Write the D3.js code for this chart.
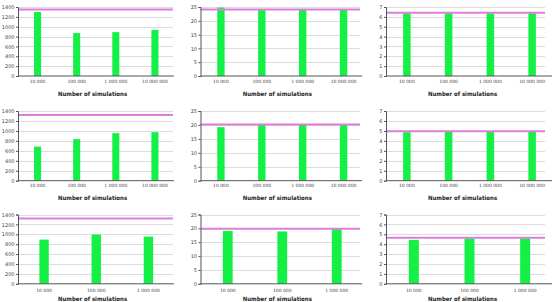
<!DOCTYPE html>
<html><head><meta charset="utf-8">
<script src="https://cdn.jsdelivr.net/npm/d3@7"></script>
<style>html,body{margin:0;padding:0;background:#fff;overflow:hidden}</style>
</head><body><svg id="c" width="552" height="302"></svg>
<script>
// ---- data ----
const categories4 = ["10 000", "100 000", "1 000 000", "10 000 000"];
const categories3 = ["10 000", "100 000", "1 000 000"];
const xTitle = "Number of simulations";

const r1c1 = [1300, 870, 890, 935], r1c1Target = 1350;
const r1c2 = [24.8, 23.95, 23.95, 23.95], r1c2Target = 24.1;
const r1c3 = [6.36, 6.36, 6.36, 6.36], r1c3Target = 6.41;

const r2c1 = [685, 835, 955, 975], r2c1Target = 1320;
const r2c2 = [19.2, 20.4, 20.2, 20.2], r2c2Target = 20.2;
const r2c3 = [4.87, 4.9, 4.9, 4.9], r2c3Target = 4.97;

const r3c1 = [893, 994, 954], r3c1Target = 1320;
const r3c2 = [19.1, 18.9, 19.7], r3c2Target = 19.9;
const r3c3 = [4.44, 4.58, 4.58], r3c3Target = 4.65;

const yMaxCol = [1400, 25, 7];
const yTickStepCol = [200, 5, 1];

// ---- layout ----
const rowLayout = [
  {top: 7, bottom: 76, catY: 82.5, titleY: 96},
  {top: 111, bottom: 180.7, catY: 187, titleY: 199.5},
  {top: 214.5, bottom: 283.8, catY: 291.5, titleY: 301}
];
const colLayout = [
  {x0: 18, x1: 174.5, gridRight: 173, axisRight: 174},
  {x0: 200.5, x1: 364, gridRight: 360, axisRight: 362},
  {x0: 386, x1: 553, gridRight: 545, axisRight: 552}
];

const panels = [
  [ {v: r1c1, t: r1c1Target, c: categories4}, {v: r1c2, t: r1c2Target, c: categories4}, {v: r1c3, t: r1c3Target, c: categories4} ],
  [ {v: r2c1, t: r2c1Target, c: categories4}, {v: r2c2, t: r2c2Target, c: categories4}, {v: r2c3, t: r2c3Target, c: categories4} ],
  [ {v: r3c1, t: r3c1Target, c: categories3}, {v: r3c2, t: r3c2Target, c: categories3}, {v: r3c3, t: r3c3Target, c: categories3} ]
];

const svg = d3.select("#c");
const GREEN = "#14f046", PINK = "#dd7ddd", GRID = "#dcdcdc", AXIS = "#555";

panels.forEach((row, ri) => {
  row.forEach((p, ci) => {
    const R = rowLayout[ri], C = colLayout[ci];
    const g = svg.append("g");
    const y = d3.scaleLinear().domain([0, yMaxCol[ci]]).range([R.bottom, R.top]);
    const x = d3.scaleBand().domain(p.c).range([C.x0, C.x1]).paddingInner(0.82).paddingOuter(0.41);
    const ticks = d3.range(0, yMaxCol[ci] + 1e-9, yTickStepCol[ci]);

    // gridlines
    g.selectAll("line.grid").data(ticks.slice(1)).join("line")
      .attr("x1", C.x0).attr("x2", C.gridRight)
      .attr("y1", d => Math.round(y(d)) + 0.5).attr("y2", d => Math.round(y(d)) + 0.5)
      .attr("stroke", GRID).attr("stroke-width", 1);

    // bars
    g.selectAll("rect").data(p.v).join("rect")
      .attr("x", (d, i) => x(p.c[i]))
      .attr("width", x.bandwidth())
      .attr("y", d => y(d))
      .attr("height", d => y(0) - y(d))
      .attr("fill", GREEN);

    // target line
    g.append("line")
      .attr("x1", C.x0).attr("x2", C.gridRight)
      .attr("y1", y(p.t)).attr("y2", y(p.t))
      .attr("stroke", PINK).attr("stroke-width", 2);

    // y axis
    const ya = d3.axisLeft(y).tickValues(ticks).tickSize(2).tickPadding(1.5)
      .tickFormat(d3.format("d"));
    const yg = g.append("g").attr("transform", `translate(${C.x0},0)`).call(ya);
    yg.select(".domain").attr("stroke", AXIS);
    yg.selectAll(".tick line").attr("stroke", AXIS);
    yg.selectAll("text").attr("font-family", "DejaVu Sans, Verdana, sans-serif")
      .attr("font-size", 5).attr("fill", "#444");

    // x axis baseline
    g.append("line")
      .attr("x1", C.x0).attr("x2", C.axisRight)
      .attr("y1", y(0)).attr("y2", y(0))
      .attr("stroke", AXIS).attr("stroke-width", 1);

    // category labels
    g.selectAll("text.cat").data(p.c).join("text")
      .attr("class", "cat")
      .attr("x", d => x(d) + x.bandwidth() / 2)
      .attr("y", R.catY)
      .attr("text-anchor", "middle")
      .attr("font-family", "DejaVu Sans, Verdana, sans-serif")
      .attr("font-size", 4.5).attr("fill", "#444")
      .text(d => d);

    // axis title
    g.append("text")
      .attr("x", (C.x0 + C.gridRight) / 2 - 3)
      .attr("y", R.titleY)
      .attr("text-anchor", "middle")
      .attr("font-family", "'Liberation Sans Narrow', 'DejaVu Sans Condensed', sans-serif")
      .attr("font-weight", "bold")
      .attr("font-size", 6).attr("fill", "#222")
      .text(xTitle);
  });
});
</script>
</body></html>
